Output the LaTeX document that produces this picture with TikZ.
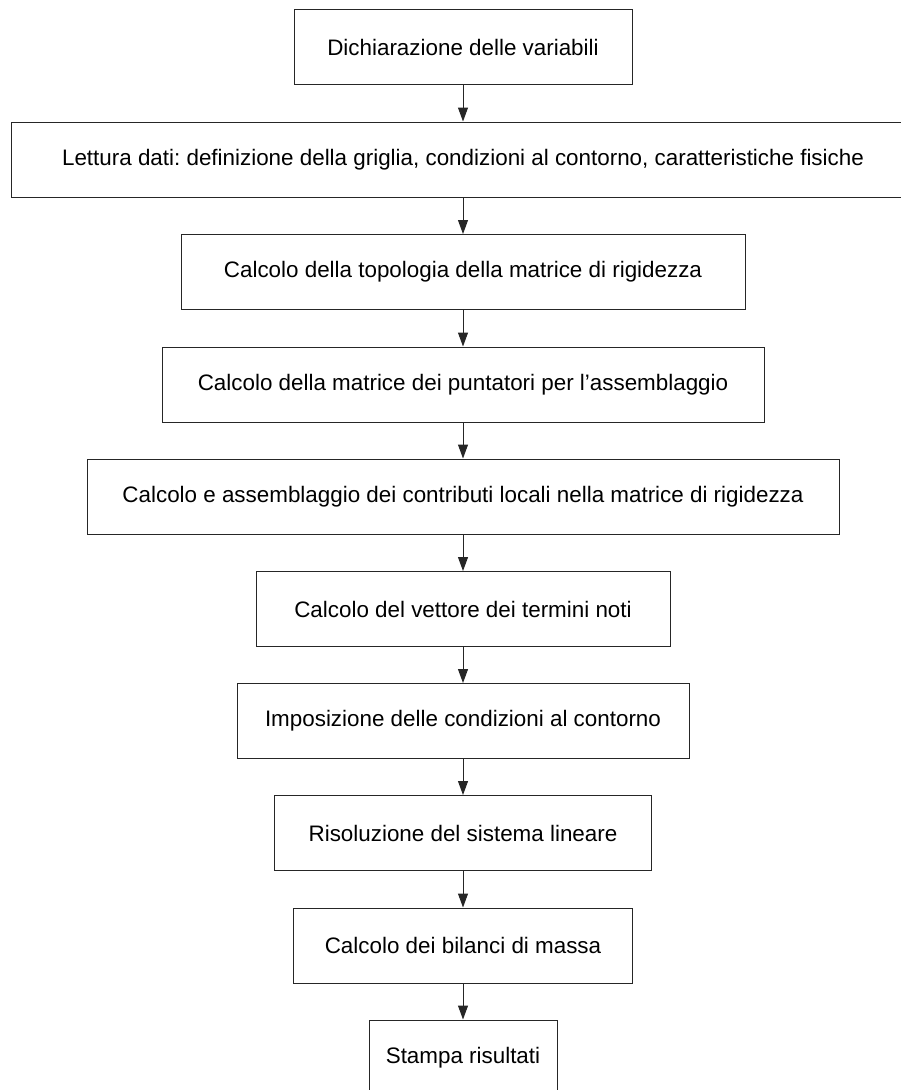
\documentclass[tikz,border=0pt]{standalone}
\usepackage{fontspec}
\setmainfont{Liberation Sans}
\usetikzlibrary{arrows.meta}
\frenchspacing

\begin{document}
\begin{tikzpicture}[x=1pt, y=-1pt,
        box/.style={draw=black!85, line width=1pt, minimum height=75pt, inner sep=0pt,
            font=\fontsize{22.4}{26}\selectfont},
        link/.style={draw=black!85, line width=1pt, -{Triangle[length=14pt, width=10pt]}}]
        \useasboundingbox (0,0) rectangle (901,1090);
        \node[box, minimum width=338pt] (decl) at (463,47){Dichiarazione delle variabili};
        \node[box, minimum width=904pt] (read) at (463,159.5){Lettura dati: definizione della griglia, condizioni al contorno, caratteristiche fisiche};
        \node[box, minimum width=564pt] (topo) at (463,272){Calcolo della topologia della matrice di rigidezza};
        \node[box, minimum width=602pt] (point) at (463,384.5){Calcolo della matrice dei puntatori per l'assemblaggio};
        \node[box, minimum width=752pt] (assem) at (463,496.5){Calcolo e assemblaggio dei contributi locali nella matrice di rigidezza};
        \node[box, minimum width=414pt] (rhs) at (463,609){Calcolo del vettore dei termini noti};
        \node[box, minimum width=452pt] (bc) at (463,721){Imposizione delle condizioni al contorno};
        \node[box, minimum width=377pt] (solve) at (463,833){Risoluzione del sistema lineare};
        \node[box, minimum width=339pt] (mass) at (463,945.5){Calcolo dei bilanci di massa};
        \node[box, minimum width=188pt] (print) at (463,1057.5){Stampa risultati};
        \draw[link](decl)--(read);
        \draw[link](read)--(topo);
        \draw[link](topo)--(point);
        \draw[link](point)--(assem);
        \draw[link](assem)--(rhs);
        \draw[link](rhs)--(bc);
        \draw[link](bc)--(solve);
        \draw[link](solve)--(mass);
        \draw[link](mass)--(print);
    \end{tikzpicture}
\end{document}
